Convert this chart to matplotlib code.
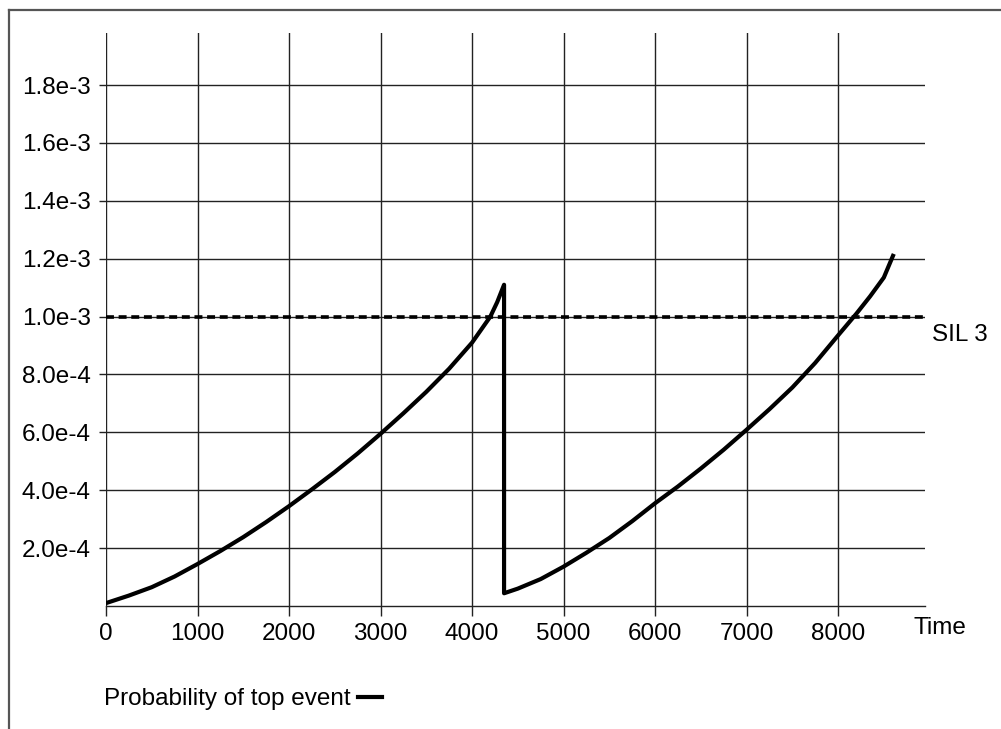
import matplotlib
matplotlib.use("Agg")
import matplotlib.pyplot as plt
from matplotlib.lines import Line2D

plt.rcParams["font.family"] = ["Liberation Sans", "DejaVu Sans"]

# curve: probability of top event vs time (drop = proof test at ~4350)
tiempo = [0, 250, 500, 750, 1000, 1250, 1500, 1750, 2000, 2250, 2500, 2750, 3000,
          3250, 3500, 3750, 4000, 4100, 4200, 4275, 4350,
          4350, 4500, 4750, 5000, 5250, 5500, 5750, 6000, 6250, 6500, 6750, 7000,
          7250, 7500, 7750, 8000, 8200, 8350, 8500, 8600]
prob = [1.0e-5, 3.6e-5, 6.5e-5, 1.02e-4, 1.45e-4, 1.9e-4, 2.38e-4, 2.9e-4, 3.45e-4, 4.03e-4, 4.63e-4, 5.27e-4, 5.95e-4,
        6.66e-4, 7.4e-4, 8.2e-4, 9.1e-4, 9.55e-4, 1.0e-3, 1.05e-3, 1.11e-3,
        4.4e-5, 6.0e-5, 9.3e-5, 1.36e-4, 1.84e-4, 2.35e-4, 2.93e-4, 3.55e-4, 4.13e-4, 4.75e-4, 5.4e-4, 6.09e-4,
        6.8e-4, 7.55e-4, 8.4e-4, 9.35e-4, 1.01e-3, 1.07e-3, 1.135e-3, 1.21e-3]

sil3 = 1.0e-3
xticks = [0, 1000, 2000, 3000, 4000, 5000, 6000, 7000, 8000]
yticks = [2e-4, 4e-4, 6e-4, 8e-4, 1e-3, 1.2e-3, 1.4e-3, 1.6e-3, 1.8e-3]
ylabels = ["2.0e-4", "4.0e-4", "6.0e-4", "8.0e-4", "1.0e-3", "1.2e-3", "1.4e-3", "1.6e-3", "1.8e-3"]

W, H = 1001, 729
fig = plt.figure(figsize=(W / 100, H / 100), dpi=100)
ax = fig.add_axes([106 / W, (H - 606) / H, (925 - 106) / W, (606 - 33) / H])

fs = 17.5

ax.plot(tiempo, prob, color="black", lw=3.0, solid_joinstyle="round", zorder=4)
ax.axhline(sil3, color="black", lw=2.6, dashes=(2.2, 1.3), dash_capstyle="butt", zorder=3)

ax.set_xlim(0, 8950)
ax.set_ylim(0, 1.98e-3)
ax.set_xticks(xticks)
ax.set_xticklabels([str(t) for t in xticks])
ax.set_yticks(yticks)
ax.set_yticklabels(ylabels)

for s in ["top", "right", "left"]:
    ax.spines[s].set_visible(False)
ax.spines["bottom"].set_linewidth(1.0)
ax.spines["bottom"].set_color("#222222")

ax.grid(True, color="#222222", lw=1.0)
ax.set_axisbelow(True)
ax.tick_params(axis="x", length=7, width=1.0, color="#222222", pad=5, labelsize=fs)
ax.tick_params(axis="y", length=5, width=1.0, color="#222222", pad=6, labelsize=fs)

fig.text(913 / W, 1 - 628 / H, "Time", fontsize=fs, va="center", ha="left")
fig.text(932 / W, 1 - 335 / H, "SIL 3", fontsize=fs, va="center", ha="left")

handle = Line2D([], [], color="black", lw=3.0)
fig.legend([handle], ["Probability of top event"], loc="center left",
           bbox_to_anchor=(104 / W, 1 - 699 / H), frameon=False, markerfirst=False,
           fontsize=fs, handlelength=1.0, handletextpad=0.3, borderpad=0, borderaxespad=0)

# outer frame (left and top only)
fig.add_artist(Line2D([8.5 / W, 8.5 / W], [0, 1 - 10 / H], transform=fig.transFigure,
                      color="#555555", lw=1.6))
fig.add_artist(Line2D([8.5 / W, 1], [1 - 10 / H, 1 - 10 / H], transform=fig.transFigure,
                      color="#555555", lw=1.6))

fig.savefig("out.png", dpi=100)
